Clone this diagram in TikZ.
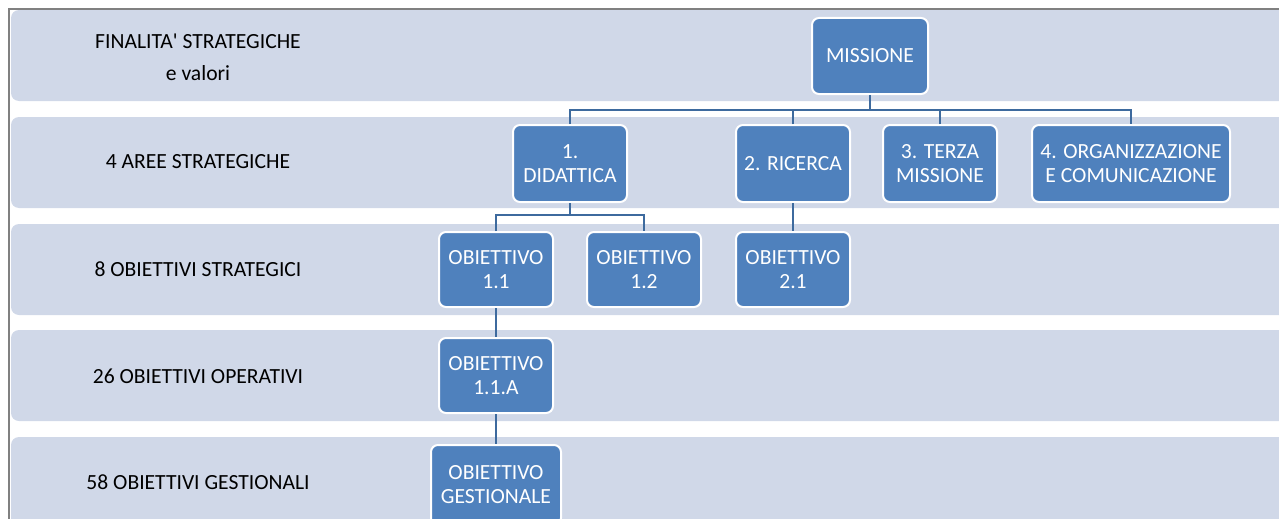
\documentclass[tikz,border=0pt]{standalone}
\usepackage{fontspec}
\setmainfont{Carlito}
\definecolor{bandc}{HTML}{D0D8E8}
\definecolor{boxc}{HTML}{4F81BD}
\definecolor{linec}{HTML}{3D6A9E}
\begin{document}
\begin{tikzpicture}[x=1pt,y=-1pt,
	band/.style={fill=bandc,rounded corners=8pt},
	lvl/.style={align=center,font=\fontsize{21.6}{32}\selectfont},
	box/.style={draw=white,line width=2pt,fill=boxc,text=white,rounded corners=7pt,align=center,
		minimum width=114pt,minimum height=77pt,inner sep=2pt,font=\fontsize{21.6}{24}\selectfont},
	conn/.style={draw=linec,line width=2pt}]
	\useasboundingbox (0,0) rectangle (1279,519);
	\clip (0,0) rectangle (1279,519);
	\foreach \t/\b in {10/101,117/208,224/315,330/421,437/540}
		\fill[band] (11,\t) rectangle (1300,\b);
	\draw[gray,line width=1.5pt] (9,530)--(9,9)--(1290,9);
	\node[lvl] (l1) at (198,57) {FINALITA\textquotesingle{} STRATEGICHE\\e valori};
	\node[lvl] (l2) at (198,162) {4 AREE STRATEGICHE};
	\node[lvl] (l3) at (198,269) {8 OBIETTIVI STRATEGICI};
	\node[lvl] (l4) at (198,376) {26 OBIETTIVI OPERATIVI};
	\node[lvl] (l5) at (198,482) {58 OBIETTIVI GESTIONALI};
	\node[box,minimum width=116pt,minimum height=76pt] (mis) at (870,56) {MISSIONE};
	\node[box] (did) at (570,163.5) {1.\\DIDATTICA};
	\node[box] (ric) at (793,163.5) {2. RICERCA};
	\node[box] (ter) at (940,163.5) {3. TERZA\\MISSIONE};
	\node[box,minimum width=198pt] (org) at (1131,163.5) {4. ORGANIZZAZIONE\\E COMUNICAZIONE};
	\node[box,minimum height=75pt] (o11) at (496,269.5) {OBIETTIVO\\1.1};
	\node[box,minimum height=75pt] (o12) at (644,269.5) {OBIETTIVO\\1.2};
	\node[box,minimum height=75pt] (o21) at (793,269.5) {OBIETTIVO\\2.1};
	\node[box,minimum height=75pt] (o11a) at (496,375.5) {OBIETTIVO\\1.1.A};
	\node[box,minimum width=130pt,minimum height=80pt] (ges) at (496,485) {OBIETTIVO\\GESTIONALE};
	\coordinate (bus1) at (0,110);
	\coordinate (bus2) at (0,215);
	\draw[conn] (mis.south)--(mis.south |- bus1);
	\draw[conn] (did.north) |- (org.north |- bus1)--(org.north);
	\draw[conn] (ric.north)--(ric.north |- bus1);
	\draw[conn] (ter.north)--(ter.north |- bus1);
	\draw[conn] (did.south)--(did.south |- bus2);
	\draw[conn] (o11.north) |- (o12.north |- bus2)--(o12.north);
	\draw[conn] (ric.south)--(o21.north);
	\draw[conn] (o11.south)--(o11a.north);
	\draw[conn] (o11a.south)--(ges.north);
\end{tikzpicture}
\end{document}
